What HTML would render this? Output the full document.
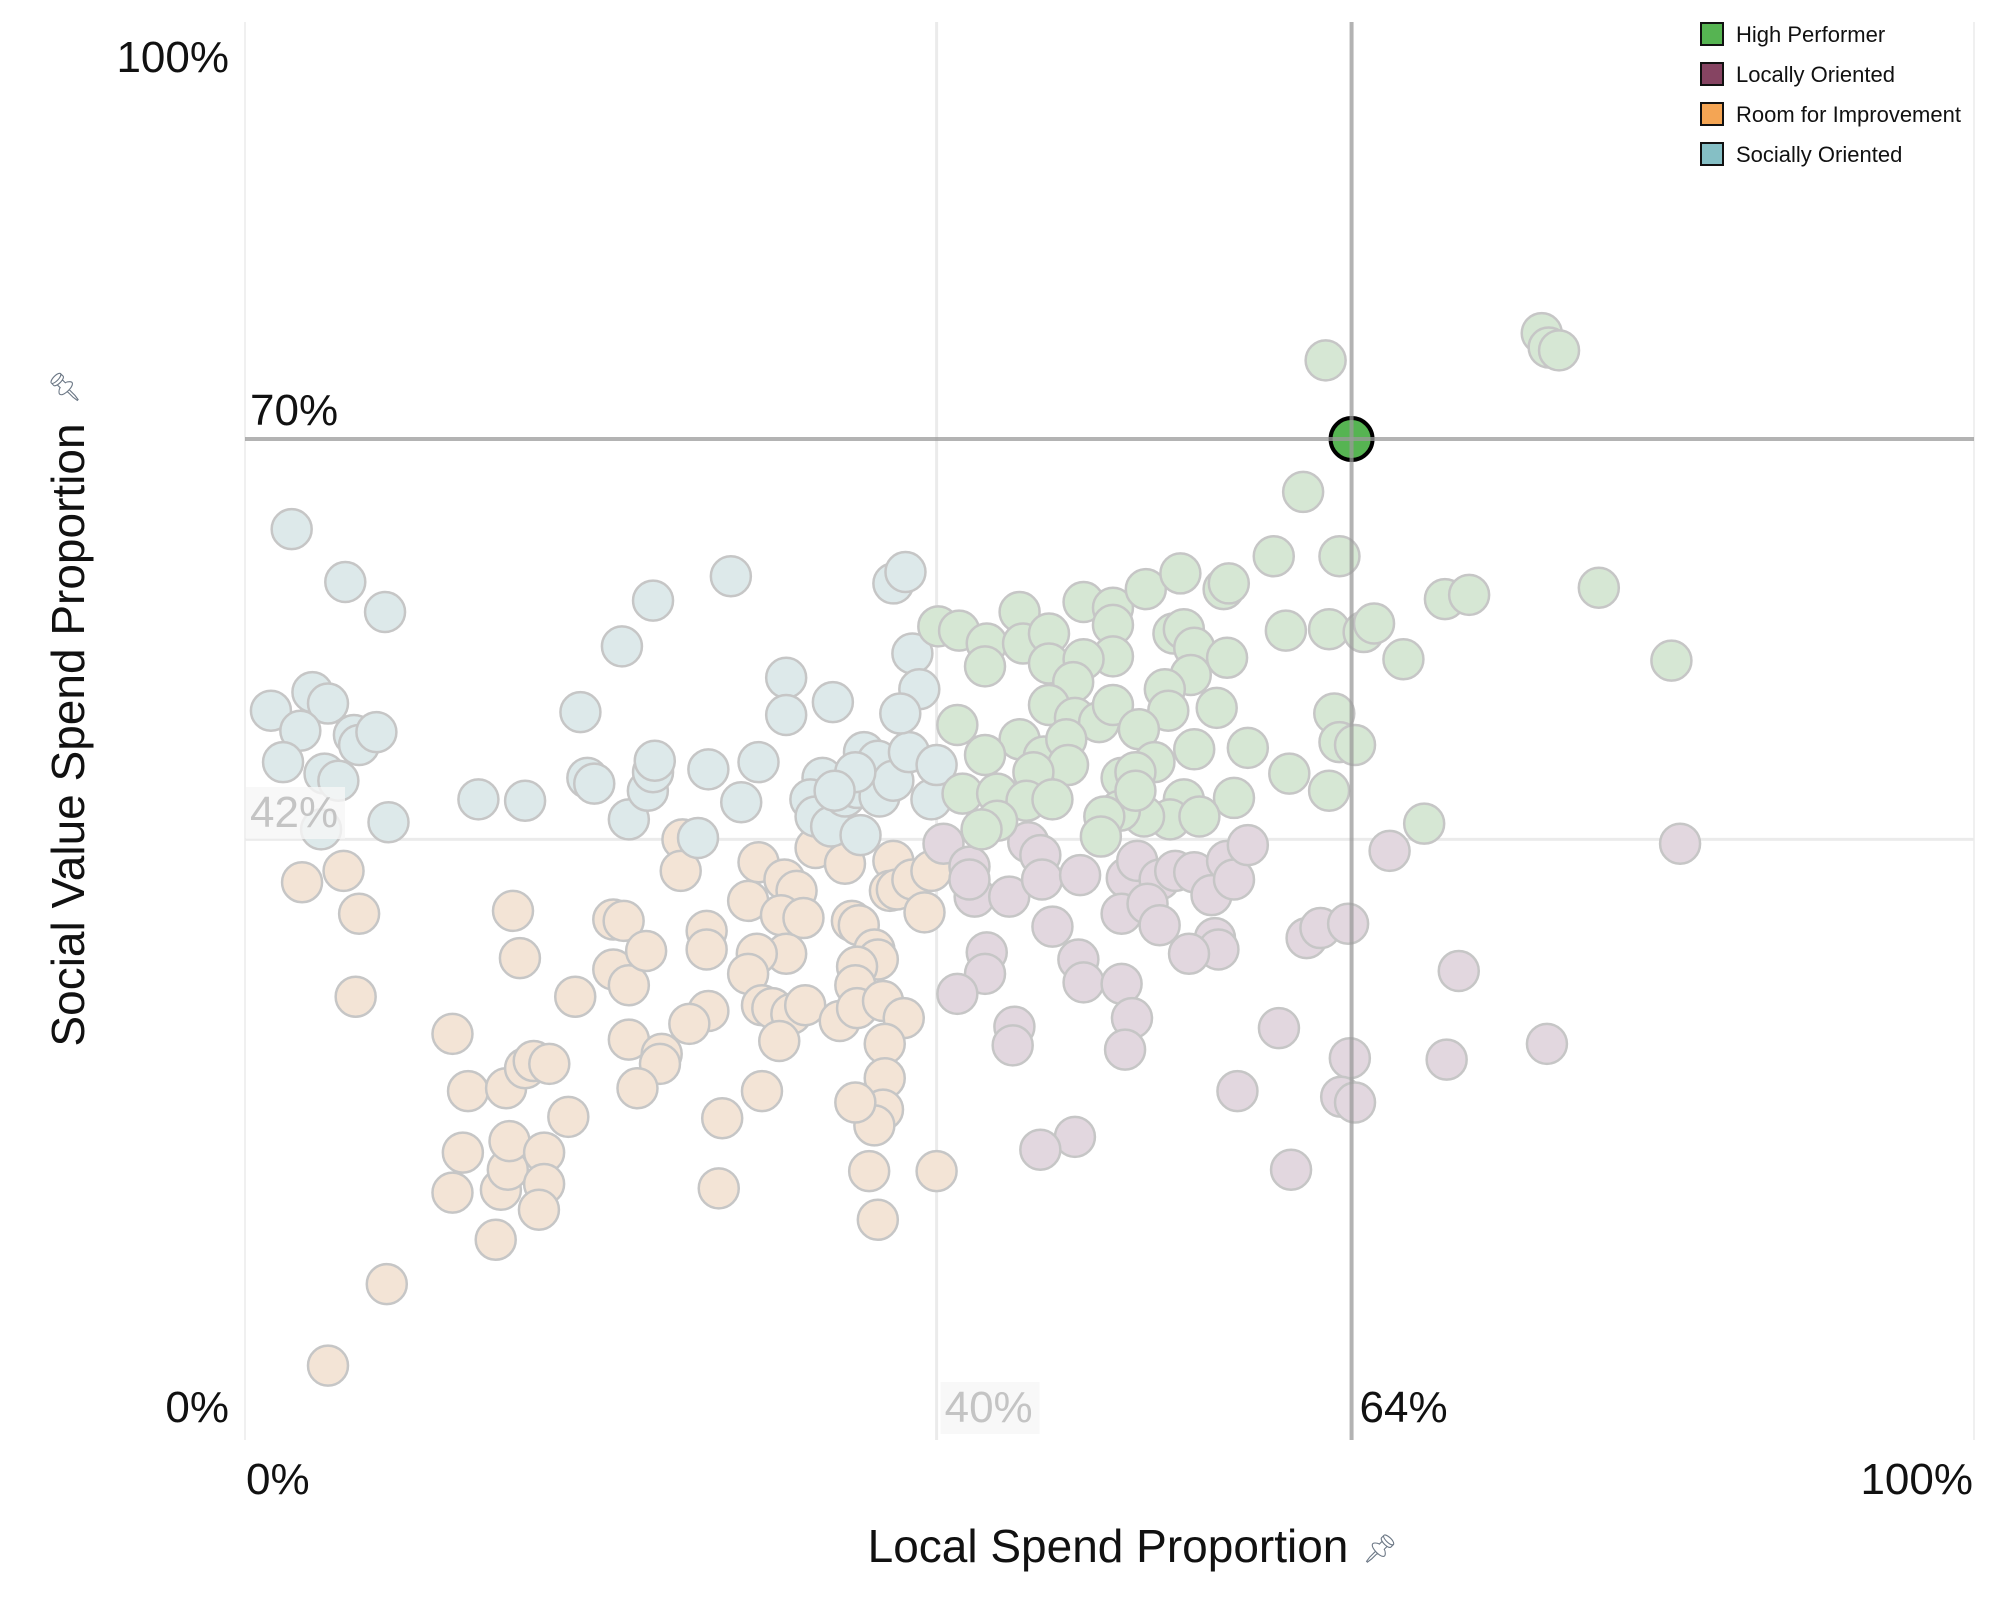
<!DOCTYPE html>
<html><head><meta charset="utf-8">
<style>
html,body{margin:0;padding:0;background:#fff;}
svg{display:block;font-family:"Liberation Sans",sans-serif;}
</style></head>
<body>
<svg id="chart" width="2000" height="1600" viewBox="0 0 2000 1600">
<g id="grid"></g>
<g id="points"></g>
<g id="ref"></g>
<g id="labels"></g>
<g id="legend">
  <g><rect x="1701" y="23" width="22" height="22" fill="#56b452" stroke="#111" stroke-width="2"/><text x="1736" y="42" font-size="22" fill="#111">High Performer</text></g>
  <g><rect x="1701" y="63" width="22" height="22" fill="#864462" stroke="#111" stroke-width="2"/><text x="1736" y="82" font-size="22" fill="#111">Locally Oriented</text></g>
  <g><rect x="1701" y="103" width="22" height="22" fill="#f4a554" stroke="#111" stroke-width="2"/><text x="1736" y="122" font-size="22" fill="#111">Room for Improvement</text></g>
  <g><rect x="1701" y="143" width="22" height="22" fill="#85bfc5" stroke="#111" stroke-width="2"/><text x="1736" y="162" font-size="22" fill="#111">Socially Oriented</text></g>
</g>
<text x="1108" y="1562" text-anchor="middle" font-size="46" fill="#111">Local Spend Proportion</text>
<text x="1380" y="1558" text-anchor="middle" font-size="28" fill="#6b7785">📌︎</text>
<text transform="translate(84,735) rotate(-90)" text-anchor="middle" font-size="46" fill="#111">Social Value Spend Proportion</text>
<text transform="translate(74,387) rotate(-90)" text-anchor="middle" font-size="28" fill="#6b7785">📌︎</text>
</svg>
<script>
const socialX=[2.7,5.8,8.1,1.5,3.9,4.8,3.2,2.2,4.6,5.4,6.3,6.6,7.6,4.4,8.3,13.5,16.2,19.4,19.8,20.2,21.8,23.6,22.2,23.3,23.6,23.7,26.2,26.8,28.1,28.7,29.7,31.3,31.3,34.0,33.4,32.7,33.0,33.9,34.7,35.4,35.6,35.8,36.6,36.7,37.5,37.5,38.2,38.4,38.6,39.0,37.9,39.7,40.0,35.3,34.1];
const socialY=[63.7,60.0,57.9,51.0,52.3,51.5,49.6,47.4,46.6,46.1,49.3,48.6,49.5,42.7,43.2,44.8,44.7,50.9,46.3,45.9,55.5,58.7,43.4,45.4,46.7,47.5,42.1,46.9,60.4,44.6,47.4,53.3,50.7,51.6,46.3,44.8,43.6,42.9,45.0,45.6,42.3,48.1,47.5,45.0,46.1,59.9,60.7,48.1,55.0,52.5,50.8,44.8,47.2,46.7,45.4];
const highX=[62.5,75.0,75.4,76.0,61.2,59.5,63.3,60.2,62.7,64.7,65.3,67.0,69.4,70.8,78.3,82.5,63.0,63.3,64.2,62.7,60.4,58.0,57.2,68.2,40.1,41.3,41.2,42.9,42.8,44.8,45.0,46.5,46.5,48.5,50.2,50.2,52.1,54.1,56.6,56.9,53.7,54.3,54.9,56.8,54.7,53.2,56.2,53.4,50.2,48.5,47.9,46.5,48.0,49.4,50.2,51.7,52.6,54.9,44.8,46.2,47.5,47.6,45.6,42.8,41.5,43.5,45.2,46.7,50.7,51.5,54.3,53.5,52.0,50.6,49.7,49.5,43.5,42.6,55.2,51.5];
const highY=[75.5,77.4,76.4,76.2,66.3,61.8,61.8,56.6,56.7,56.5,57.1,54.6,58.8,59.1,59.6,54.5,50.8,48.8,48.6,45.4,46.6,48.4,44.9,43.1,56.9,56.6,50.0,55.7,54.1,57.9,55.7,56.4,54.3,58.6,58.2,57.0,59.5,60.6,59.5,59.9,56.4,56.7,55.4,54.7,53.5,52.5,51.2,51.0,54.8,54.6,53.0,51.4,50.5,50.2,51.4,49.7,47.4,48.3,49.0,47.8,49.0,47.2,46.7,47.9,45.2,45.2,44.7,44.8,46.3,46.7,44.8,43.4,43.6,44.0,43.6,42.2,43.3,42.7,43.6,45.4];
const localX=[40.4,41.9,42.2,41.9,44.2,45.3,46.0,46.1,48.3,51.0,51.6,52.9,53.8,54.9,55.9,56.8,57.2,58.0,50.7,52.2,52.9,56.1,56.3,54.6,46.7,48.2,48.5,50.7,51.3,50.9,42.9,42.8,41.2,44.5,44.4,48.0,46.0,57.4,59.8,60.5,61.4,62.2,63.8,66.2,70.2,69.5,75.3,83.0,63.9,63.4,64.2];
const localY=[41.7,40.1,38.0,39.2,38.0,41.8,40.9,39.2,39.5,39.3,40.5,39.2,39.8,39.7,38.1,40.5,39.2,41.6,36.8,37.5,36.0,35.1,34.3,34.0,35.9,33.6,32.0,31.9,29.5,27.3,34.1,32.6,31.2,28.9,27.6,21.2,20.3,24.4,28.8,18.9,35.1,35.8,36.1,41.2,32.8,26.6,27.7,41.7,26.7,24.0,23.6];
const roomX=[3.3,5.7,6.6,6.4,8.2,4.8,12.0,12.9,12.6,12.0,14.5,14.8,15.2,15.3,15.1,16.2,16.7,17.6,17.3,17.3,17.0,18.7,15.5,15.9,19.1,21.3,21.9,21.3,22.2,23.2,22.2,24.1,24.0,22.7,25.3,25.2,26.7,26.7,26.8,25.7,27.6,27.4,29.9,29.1,29.7,31.2,31.9,31.0,32.3,31.3,29.6,29.1,29.9,30.5,31.6,32.4,30.9,33.0,34.7,34.4,35.1,35.5,36.4,36.6,35.4,35.3,35.4,36.9,38.1,37.0,37.0,36.9,36.4,35.3,36.1,36.6,40.0,37.5,37.3,37.7,38.6,39.3,39.7];
const roomY=[39.0,39.8,36.8,31.0,10.9,5.2,28.4,24.4,20.1,17.3,14.0,17.5,18.9,20.9,24.6,26.0,26.5,26.3,20.1,17.9,16.1,22.6,37.0,33.7,31.0,36.4,36.3,32.9,31.8,34.2,28.0,27.0,26.3,24.6,42.0,39.8,35.6,34.3,30.0,29.1,22.5,17.6,24.4,37.7,40.4,39.2,38.4,36.7,36.5,34.0,34.0,32.6,30.4,30.2,29.8,30.4,27.9,41.4,40.3,29.3,36.3,36.0,34.3,33.6,33.1,31.8,30.2,30.7,29.5,27.7,25.3,23.1,22.0,23.6,18.8,15.4,18.8,40.5,38.4,38.5,39.2,36.9,39.8];
const highlightX=[64];
const highlightY=[70];
const xRefs=[40,64];
const yRefs=[42,70];

const NS="http://www.w3.org/2000/svg";
const X0=245,X1=1974,Y0=1440,Y1=10;
function sx(v){return X0+(X1-X0)*v/100;}
function sy(v){return Y0-(Y0-Y1)*v/100;}
function mk(tag,attrs,parent){const e=document.createElementNS(NS,tag);for(const k in attrs)e.setAttribute(k,attrs[k]);parent.appendChild(e);return e;}

const grid=document.getElementById('grid');
// plot edges
let e=mk('line',{x1:X0,y1:Y1+12,x2:X0,y2:Y0,stroke:'#f0f0f0','stroke-width':2},grid);


e=mk('line',{x1:X1,y1:Y1+12,x2:X1,y2:Y0,stroke:'#f0f0f0','stroke-width':2},grid);


e=mk('line',{x1:sx(xRefs[0]),y1:Y1+12,x2:sx(xRefs[0]),y2:Y0,stroke:'#ebebeb','stroke-width':3},grid);


e=mk('line',{x1:X0,y1:sy(yRefs[0]),x2:X1,y2:sy(yRefs[0]),stroke:'#ebebeb','stroke-width':3},grid);



const pts=document.getElementById('points');
function series(xs,ys,fill,name){
  for(let i=0;i<xs.length;i++){
    const c=mk('circle',{cx:sx(xs[i]),cy:sy(ys[i]),r:20,fill:fill,stroke:'#c6c6c6','stroke-width':2.5},pts);
    
    
  }
}
series(roomX,roomY,'#f3e4d6','point-room-for-improvement');
series(localX,localY,'#e2d7df','point-locally-oriented');
series(socialX,socialY,'#dde9ea','point-socially-oriented');
series(highX,highY,'#d6e7d4','point-high-performer');
for(let i=0;i<highlightX.length;i++){
  const c=mk('circle',{cx:sx(highlightX[i]),cy:sy(highlightY[i]),r:21,fill:'#56b452',stroke:'#000','stroke-width':4},pts);
  
  
}

const ref=document.getElementById('ref');
e=mk('line',{x1:sx(xRefs[1]),y1:Y1+12,x2:sx(xRefs[1]),y2:Y0,stroke:'#999','stroke-opacity':0.75,'stroke-width':4},ref);


e=mk('line',{x1:X0,y1:sy(yRefs[1]),x2:X1,y2:sy(yRefs[1]),stroke:'#999','stroke-opacity':0.75,'stroke-width':4},ref);



const lab=document.getElementById('labels');
function txt(x,y,s,anchor,fill,name,bg){
  if(bg){const r=mk('rect',{x:anchor==='end'?x-95:x-4,y:y-40,width:99,height:52,fill:'#f6f6f6','fill-opacity':0.8},lab);
    
    }
  const t=mk('text',{x:x,y:y,'text-anchor':anchor,'font-size':44,fill:fill},lab);
  t.textContent=s;
  
  
}
txt(229,72,'100%','end','#111','y-tick-100');
txt(229,1422,'0%','end','#111','y-tick-0');
txt(250,425,yRefs[1]+'%','start','#111','y-target-label');
txt(250,827,yRefs[0]+'%','start','#c4c4c4','y-average-label',true);
txt(246,1494,'0%','start','#111','x-tick-0');
txt(1973,1494,'100%','end','#111','x-tick-100');
txt(sx(xRefs[0])+8,1422,xRefs[0]+'%','start','#c4c4c4','x-average-label',true);
txt(sx(xRefs[1])+8,1422,xRefs[1]+'%','start','#111','x-target-label');
</script>
</body></html>
